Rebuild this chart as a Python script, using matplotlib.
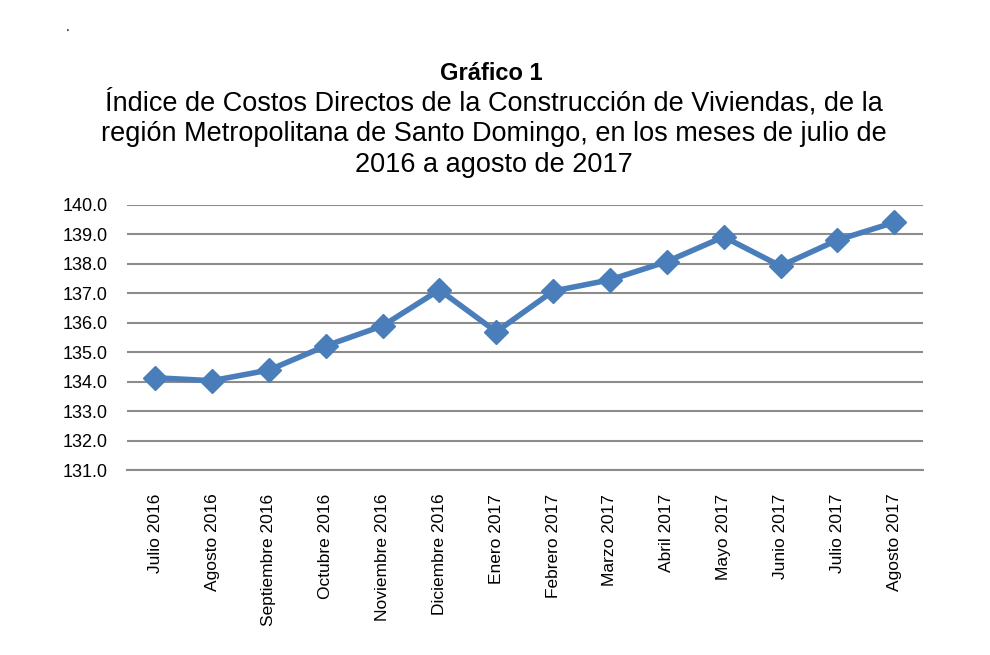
import matplotlib.pyplot as plt
import numpy as np

# Datos del gráfico
meses = ['Julio 2016', 'Agosto 2016', 'Septiembre 2016', 'Octubre 2016',
         'Noviembre 2016', 'Diciembre 2016', 'Enero 2017', 'Febrero 2017',
         'Marzo 2017', 'Abril 2017', 'Mayo 2017', 'Junio 2017',
         'Julio 2017', 'Agosto 2017']
indice = [134.13, 134.03, 134.39, 135.21, 135.89, 137.11, 135.69,
          137.07, 137.45, 138.07, 138.91, 137.92, 138.80, 139.40]
y_ticks = np.arange(131, 141, 1)

azul = '#4a7ebb'
gris = '#8c8c8c'

plt.rcParams['font.family'] = ['Liberation Sans', 'DejaVu Sans']

fig = plt.figure(figsize=(9.9, 6.55), dpi=100)
ax = fig.add_axes([0.128, 0.2824, 0.804, 0.4051])

x = np.arange(len(meses))
ax.plot(x, indice, color=azul, linewidth=4, marker='D',
        markersize=12, markerfacecolor=azul, markeredgecolor=azul, zorder=3)

ax.set_xlim(-0.5, len(meses) - 0.5)
ax.set_ylim(131, 140)
ax.set_yticks(y_ticks)
ax.set_yticklabels([f'{v:.1f}' for v in y_ticks])
ax.set_xticks(x)
ax.set_xticklabels(meses, rotation=90)

# Líneas de cuadrícula
ax.grid(axis='y', color=gris, linewidth=1.5)
ax.set_axisbelow(True)
for s in ['top', 'right', 'left']:
    ax.spines[s].set_visible(False)
ax.spines['bottom'].set_color(gris)
ax.spines['bottom'].set_linewidth(1.5)

ax.tick_params(axis='y', length=0, pad=14, labelsize=13)
ax.tick_params(axis='x', length=0, pad=17, labelsize=12.5)

# Títulos
fig.text(0.496, 1 - 73 / 655, 'Gráfico 1', ha='center', va='center',
         fontsize=17, fontweight='bold')
subtitulo = ['Índice de Costos Directos de la Construcción de Viviendas, de la',
             'región Metropolitana de Santo Domingo, en los meses de julio de',
             '2016 a agosto de 2017']
for i, linea in enumerate(subtitulo):
    fig.text(0.499, 1 - (103 + 31 * i) / 655, linea, ha='center', va='center',
             fontsize=19.5)

fig.text(68 / 990, 1 - 27 / 655, '.', ha='center', va='center', fontsize=10)

fig.savefig('out.png', dpi=100)
